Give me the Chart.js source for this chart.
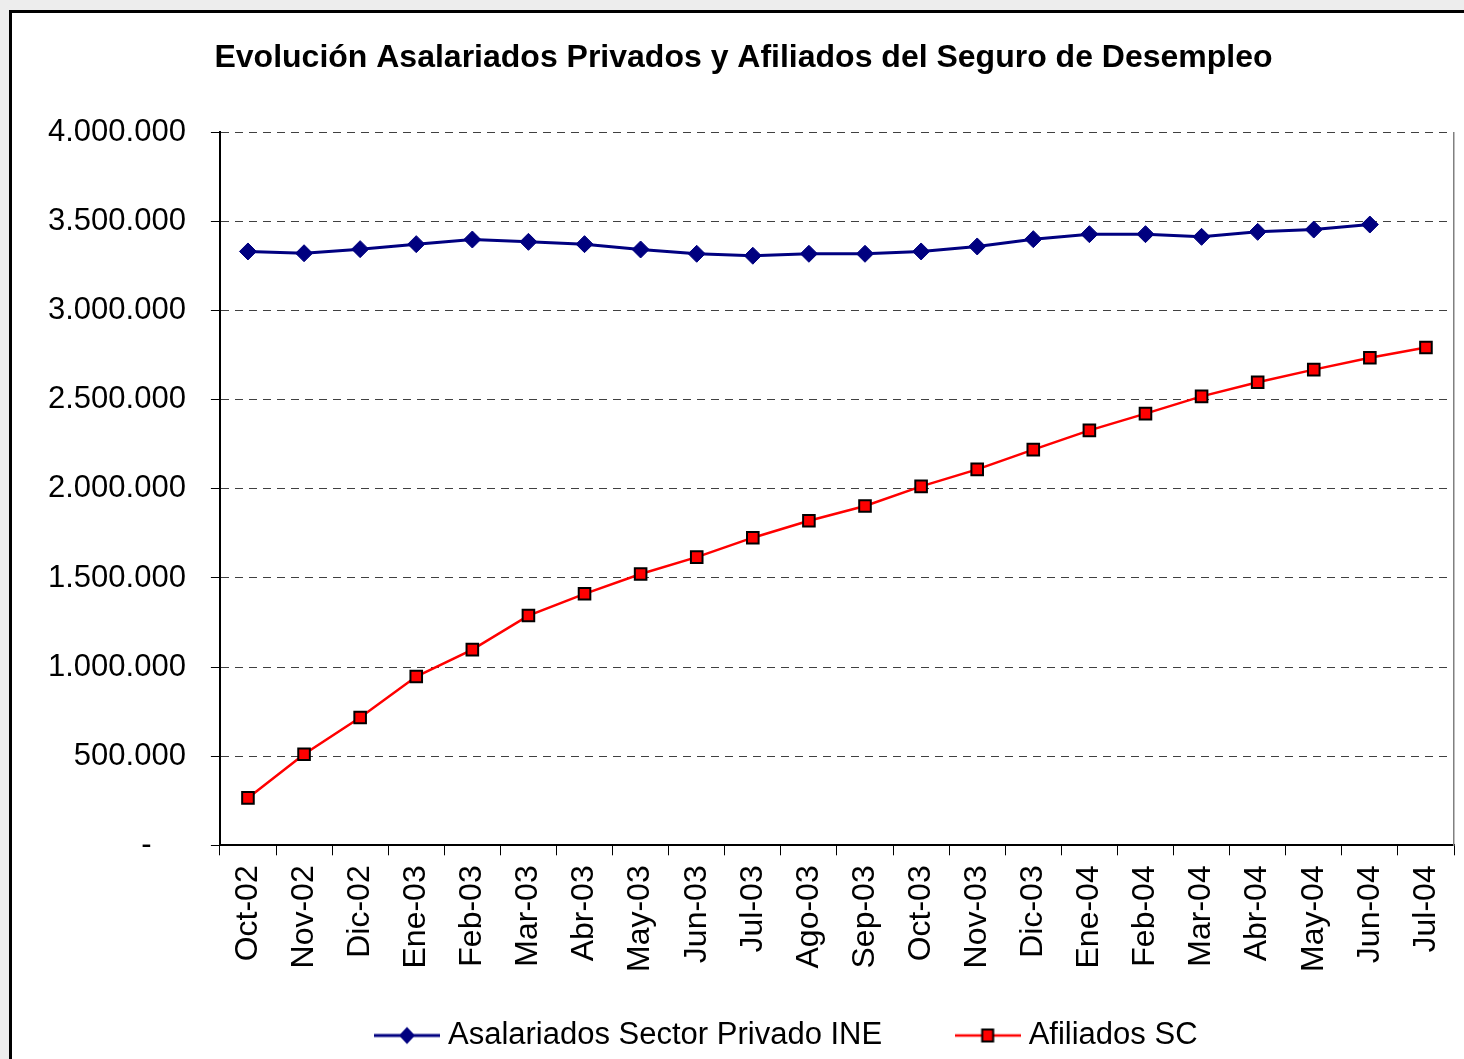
<!DOCTYPE html>
<html><head><meta charset="utf-8">
<script src="https://cdn.jsdelivr.net/npm/chart.js@4/dist/chart.umd.min.js"></script>
<style>
html,body{margin:0;padding:0;width:1464px;height:1059px;overflow:hidden;background:#ededed;}
#frame{position:absolute;left:9px;top:10px;width:1480px;height:1110px;background:#fff;border-left:3px solid #000;border-top:3px solid #000;}
#c{position:absolute;left:0;top:0;}
</style></head><body>
<div id="frame"><canvas id="c" width="1470" height="1090"></canvas></div>
<script>
const categories = ['Oct-02','Nov-02','Dic-02','Ene-03','Feb-03','Mar-03','Abr-03','May-03','Jun-03','Jul-03','Ago-03','Sep-03','Oct-03','Nov-03','Dic-03','Ene-04','Feb-04','Mar-04','Abr-04','May-04','Jun-04','Jul-04'];
const asalariados = [3332000,3322000,3345000,3373000,3399000,3386000,3373000,3343000,3319000,3308000,3319000,3319000,3332000,3360000,3401000,3429000,3429000,3414000,3442000,3455000,3483000,null];
const afiliados = [266000,511000,717000,947000,1098000,1289000,1411000,1522000,1617000,1726000,1821000,1904000,2014000,2109000,2220000,2328000,2422000,2519000,2598000,2669000,2736000,2793000];
const seriesNames = ['Asalariados Sector Privado INE','Afiliados SC'];
const yMin = 0, yMax = 4000000, yStep = 500000;
const titleText = 'Evolución Asalariados Privados y Afiliados del Seguro de Desempleo';

const FONT = "'Liberation Sans', Arial, sans-serif";
Chart.defaults.font.family = FONT;
Chart.defaults.color = '#000';

function legendImg(kind){
  const c = document.createElement('canvas'); c.width = 66; c.height = 20;
  const g = c.getContext('2d');
  g.lineWidth = kind === 'blue' ? 3 : 2.5;
  g.strokeStyle = kind === 'blue' ? '#000080' : '#ff0000';
  g.beginPath(); g.moveTo(0,10); g.lineTo(66,10); g.stroke();
  if (kind === 'blue') {
    g.fillStyle = '#000080';
    g.beginPath(); g.moveTo(33,1.5); g.lineTo(41,10); g.lineTo(33,18.5); g.lineTo(25,10); g.closePath(); g.fill();
  } else {
    g.fillStyle = '#ff0000'; g.strokeStyle = '#000'; g.lineWidth = 2;
    g.fillRect(27.5,4,11,12); g.strokeRect(27.5,4,11,12);
  }
  return c;
}
const legendImgs = [legendImg('blue'), legendImg('red')];

const LEGEND_SHIFT_X = 51, LEGEND_SHIFT_Y = -42, TITLE_SHIFT_X = 5;
const boxShift = {
  id: 'boxShift',
  afterLayout(chart){
    const l = chart.legend;
    l.left += LEGEND_SHIFT_X; l.right += LEGEND_SHIFT_X; l.top += LEGEND_SHIFT_Y; l.bottom += LEGEND_SHIFT_Y;
    const t = chart.titleBlock;
    t.left += TITLE_SHIFT_X; t.right += TITLE_SHIFT_X;
  }
};

const fmt = v => v === 0 ? '-    ' : String(v).replace(/\B(?=(\d{3})+(?!\d))/g, '.');

new Chart(document.getElementById('c'), {
  type: 'line',
  data: {
    labels: categories,
    datasets: [
      { label: seriesNames[0], data: asalariados, borderColor: '#000080', borderWidth: 3,
        pointStyle: 'rectRot', pointRadius: 8.5, pointBackgroundColor: '#000080', pointBorderColor: '#000080',
        pointBorderWidth: 1, tension: 0, spanGaps: false },
      { label: seriesNames[1], data: afiliados, borderColor: '#ff0000', borderWidth: 2.5,
        pointStyle: 'rect', pointRadius: 8.2, pointBackgroundColor: '#ff0000', pointBorderColor: '#000',
        pointBorderWidth: 2, tension: 0 }
    ]
  },
  options: {
    responsive: false, animation: false,
    layout: { padding: { left: 11, right: 28, top: 0, bottom: 0 } },
    plugins: {
      title: { display: true, text: titleText, color: '#000',
        font: { family: FONT, size: 32, weight: 'bold' }, padding: { top: 26, bottom: 55 } },
      legend: { position: 'bottom',
        labels: { usePointStyle: true, pointStyleWidth: 51, padding: 80, color: '#000',
          font: { family: FONT, size: 31 },
          generateLabels: chart => chart.data.datasets.map((ds, i) => ({
            text: ds.label, pointStyle: legendImgs[i], fillStyle: 'transparent', strokeStyle: 'transparent',
            lineWidth: 0, hidden: false, datasetIndex: i, fontColor: '#000' })) } },
      tooltip: { enabled: false }
    },
    scales: {
      x: { type: 'category', offset: true,
        grid: { drawOnChartArea: false, drawTicks: true, tickLength: 10, tickColor: '#000', tickWidth: 1, offset: true },
        border: { color: '#000', width: 2 },
        ticks: { minRotation: 90, maxRotation: 90, autoSkip: false, padding: 10, color: '#000', font: { family: FONT, size: 32 } } },
      y: { min: yMin, max: yMax,
        ticks: { stepSize: yStep, padding: 25, color: '#000', font: { family: FONT, size: 31 }, callback: fmt },
        grid: { color: '#404040', lineWidth: 1, tickLength: 9, tickColor: '#000', tickBorderDash: [], drawTicks: true },
        border: { color: '#000', width: 2, dash: [8, 6] } },
      y2: { position: 'right', min: yMin, max: yMax,
        grid: { display: false, drawTicks: false }, ticks: { display: false },
        border: { display: true, color: '#808080', width: 1.5 } }
    }
  },
  plugins: [boxShift]
});
</script>
</body></html>
